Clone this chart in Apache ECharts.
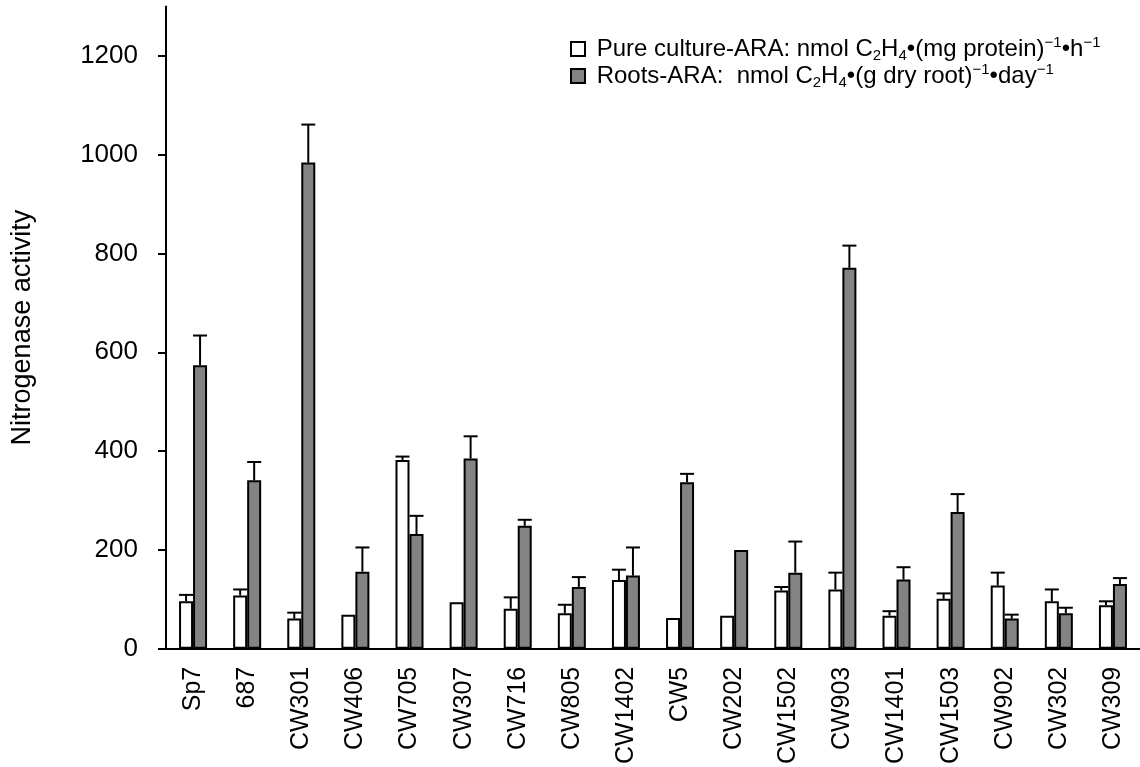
<!DOCTYPE html>
<html>
<head>
<meta charset="utf-8">
<script src="https://cdn.jsdelivr.net/npm/echarts@6/dist/echarts.min.js"></script>
<style>
    html, body { margin: 0; padding: 0; background: #fff; }
    #chart { width: 1140px; height: 767px; }
</style>
</head>
<body>
<div id="chart"></div>
<script>
// strains on the x axis
const strains = ['Sp7', '687', 'CW301', 'CW406', 'CW705', 'CW307', 'CW716', 'CW805', 'CW1402',
    'CW5', 'CW202', 'CW1502', 'CW903', 'CW1401', 'CW1503', 'CW902', 'CW302', 'CW309'];

// pure culture ARA, mean and top of error bar (null = no error bar)
const pureMean = [96, 108, 61, 69, 382, 94, 81, 72, 139, 62, 67, 118, 120, 67, 101, 128, 96, 88];
const pureUpper = [109, 120, 73, null, 389, null, 104, 89, 160, null, null, 125, 154, 76, 112, 154, 120, 96];

// roots ARA, mean and top of error bar
const rootsMean = [574, 341, 984, 156, 232, 385, 249, 125, 148, 337, 200, 154, 771, 140, 277, 61, 72, 131];
const rootsUpper = [634, 378, 1061, 205, 269, 430, 261, 145, 205, 354, null, 217, 816, 165, 313, 69, 83, 143];

const yTicks = [0, 200, 400, 600, 800, 1000, 1200];

const BAR_W = 14;
const FONT = '"Liberation Sans", Arial, sans-serif';

const errData = (mean, upper) => mean
    .map((m, i) => [i, m, upper[i]])
    .filter(d => d[2] !== null);

// draws one upper error bar, shifted onto the white or the gray bar
const errRender = (offset) => (params, api) => {
    const base = api.coord([api.value(0), api.value(1)]);
    const top = api.coord([api.value(0), api.value(2)]);
    const x = base[0] + offset;
    const half = 7;
    const style = {stroke: '#000', lineWidth: 2};
    return {
        type: 'group',
        children: [
            {type: 'line', shape: {x1: x, y1: base[1], x2: x, y2: top[1]}, style: style},
            {type: 'line', shape: {x1: x - half, y1: top[1], x2: x + half, y2: top[1]}, style: style}
        ]
    };
};

const legendText = {
    'Pure culture-ARA': '{t| Pure culture-ARA: nmol C}{sub|2}{t|H}{sub|4}{t|•(mg protein)}{sup|−1}{t|•h}{sup|−1}',
    'Roots-ARA': '{t| Roots-ARA:  nmol C}{sub|2}{t|H}{sub|4}{t|•(g dry root)}{sup|−1}{t|•day}{sup|−1}'
};

const chart = echarts.init(document.getElementById('chart'));

const options = {
    animation: false,
    textStyle: {fontFamily: FONT},
    grid: {left: 166, width: 980, top: 6.5, height: 643.5},
    legend: {
        data: ['Pure culture-ARA', 'Roots-ARA'],
        orient: 'vertical',
        left: 565,
        top: 30,
        icon: 'rect',
        itemWidth: 14,
        itemHeight: 14,
        itemGap: -1,
        formatter: (name) => legendText[name],
        textStyle: {
            color: '#000',
            rich: {
                t: {fontSize: 24, fontFamily: FONT, color: '#000', lineHeight: 28, verticalAlign: 'middle'},
                sub: {fontSize: 15, fontFamily: FONT, color: '#000', lineHeight: 8, verticalAlign: 'bottom'},
                sup: {fontSize: 15, fontFamily: FONT, color: '#000', lineHeight: 14, verticalAlign: 'top'}
            }
        }
    },
    xAxis: {
        type: 'category',
        data: strains,
        axisLine: {lineStyle: {color: '#000', width: 2}},
        axisTick: {show: false},
        axisLabel: {
            rotate: 90,
            color: '#000',
            fontSize: 25,
            fontFamily: FONT,
            margin: 18
        }
    },
    yAxis: {
        type: 'value',
        min: 0,
        max: 1300,
        interval: 200,
        name: 'Nitrogenase activity',
        nameLocation: 'middle',
        nameGap: 130,
        nameTextStyle: {fontSize: 27, color: '#000', fontFamily: FONT},
        splitLine: {show: false},
        axisLine: {show: true, lineStyle: {color: '#000', width: 2}},
        axisTick: {show: true, length: 8, lineStyle: {color: '#000', width: 2}, customValues: yTicks},
        axisLabel: {
            color: '#000',
            fontSize: 26,
            fontFamily: FONT,
            margin: 28,
            customValues: yTicks,
            formatter: (v) => String(v)
        }
    },
    series: [
        {
            name: 'Pure culture-ARA',
            type: 'bar',
            data: pureMean,
            barWidth: BAR_W,
            barGap: '0%',
            itemStyle: {color: '#ffffff', borderColor: '#000', borderWidth: 2}
        },
        {
            name: 'Roots-ARA',
            type: 'bar',
            data: rootsMean,
            barWidth: BAR_W,
            barGap: '0%',
            itemStyle: {color: '#838383', borderColor: '#000', borderWidth: 2}
        },
        {
            name: 'pureErr',
            type: 'custom',
            renderItem: errRender(-BAR_W / 2),
            data: errData(pureMean, pureUpper),
            z: 1
        },
        {
            name: 'rootsErr',
            type: 'custom',
            renderItem: errRender(BAR_W / 2),
            data: errData(rootsMean, rootsUpper),
            z: 1
        }
    ]
};

chart.setOption(options);
</script>
</body>
</html>
